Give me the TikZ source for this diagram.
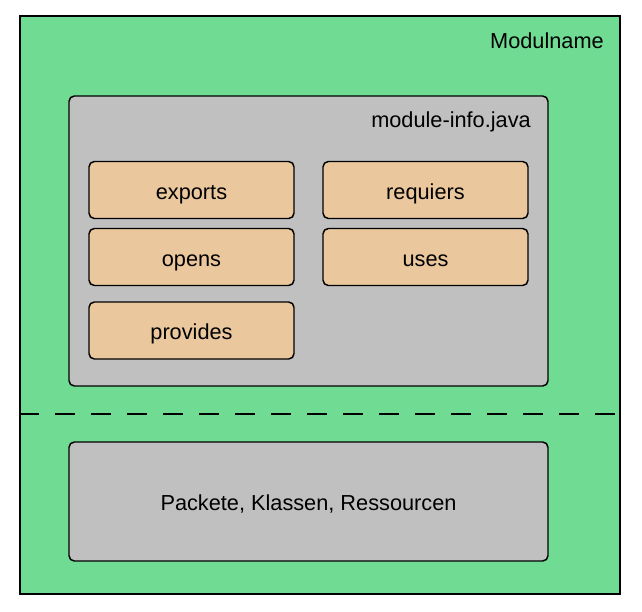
\documentclass[tikz,border=0pt]{standalone}
\usepackage{fontspec}
\setmainfont{Liberation Sans}
\definecolor{modulgreen}{HTML}{70DB93}
\definecolor{infogray}{HTML}{C0C0C0}
\definecolor{keyorange}{HTML}{EAC79D}
\tikzset{
  modulbox/.style={draw, line width=1.1pt, fill=modulgreen, minimum width=450pt, minimum height=433.5pt},
  graybox/.style={draw, line width=1.1pt, fill=infogray, rounded corners=4pt, minimum width=359.25pt, text height=14pt, text depth=0pt},
  keybox/.style={draw, line width=1.1pt, fill=keyorange, rounded corners=4pt, minimum width=153.75pt, minimum height=42.75pt, text height=14pt, text depth=0pt},
  boxtitle/.style={anchor=base east, inner sep=0pt}
}
\begin{document}
\begin{tikzpicture}[x=0.75pt, y=-0.75pt, font=\fontsize{16.3}{19}\selectfont]
  \useasboundingbox (0,0) rectangle (642,611);
  % Draw the module frame and its two parts
  \node[modulbox] (modul) at (320,305) {};
  \node[boxtitle] (modulname) at (604,48) {Modulname};
  \node[graybox, minimum height=217.5pt] (info) at (308.5,241) {};
  \node[boxtitle] (infoname) at (531,127) {module-info.java};
  \node[graybox, minimum height=89.25pt] (inhalt) at (308.5,501.5) {Packete, Klassen, Ressourcen};

  % Draw the keywords of module-info.java
  \node[keybox] (exports) at (191.5,190) {exports};
  \node[keybox] (requiers) at (425.5,190) {requiers};
  \node[keybox] (opens) at (191.5,257) {opens};
  \node[keybox] (uses) at (425.5,257) {uses};
  \node[keybox] (provides) at (191.5,330.5) {provides};

  % Draw the separating line
  \coordinate (trennL) at (modul.west |- 0,414);
  \coordinate (trennR) at (modul.east |- 0,414);
  \draw[line width=1.1pt, dash pattern=on 15pt off 12pt] (trennL) -- (trennR);
\end{tikzpicture}
\end{document}
